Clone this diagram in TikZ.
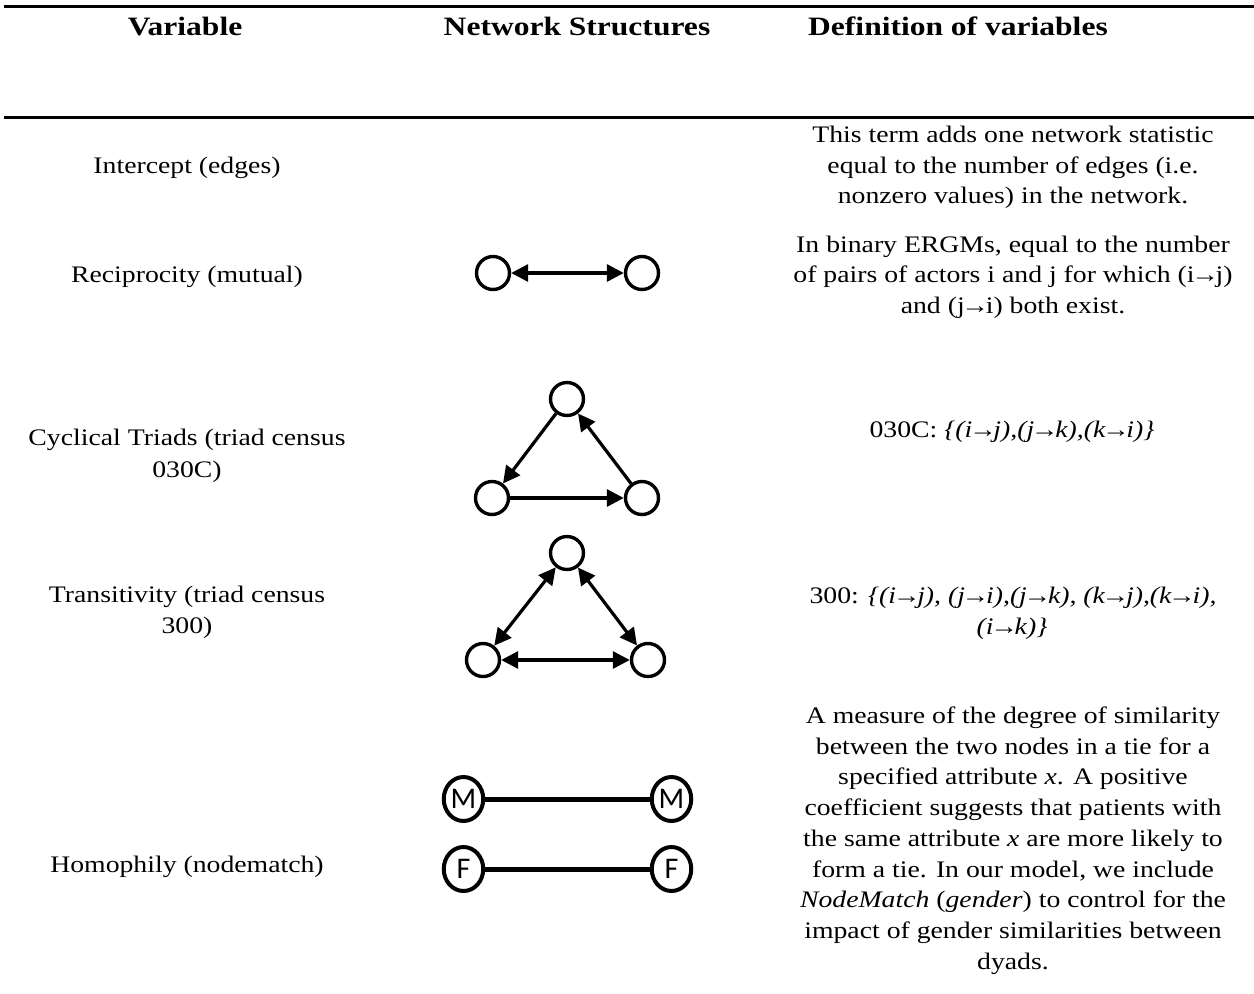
\documentclass[tikz,border=0pt]{standalone}
\usepackage{fontspec}
\setmainfont{Liberation Serif}[FakeStretch=1.17]
\newfontfamily\headfont{Liberation Serif}[FakeStretch=1.19]
\newfontfamily\letterfont{Carlito}
\usetikzlibrary{arrows.meta,shapes.geometric}

% a tightly spaced arrow for the tie notation
\newcommand\arw{\kern-.14em→\kern-.14em}

\tikzset{
  txt/.style={font=\fontsize{23.7}{30.7}\selectfont, anchor=base, inner sep=0pt},
  head/.style={font=\headfont\bfseries\fontsize{26.5}{30}\selectfont, anchor=base, inner sep=0pt},
  rule/.style={line width=3pt},
  actor/.style={circle, draw, line width=3.4pt, minimum size=33pt, inner sep=0pt},
  gendernode/.style={ellipse, draw, line width=4pt, minimum width=39.5pt, minimum height=44pt,
    inner sep=0pt, font=\letterfont\fontsize{30}{30}\selectfont},
  tie/.style={line width=3.2pt},
  tip/.tip={Triangle[length=17pt,width=17pt]},
  dirtie/.style={tie, -tip},
  bitie/.style={tie, tip-tip},
  homtie/.style={line width=5pt},
}

\begin{document}
\begin{tikzpicture}[x=1pt, y=-1pt]
\useasboundingbox (0,0) rectangle (1254,994);

% table rules
\draw[rule] (4,6.5) -- (1254,6.5);
\draw[rule] (4,117) -- (1254,117);

% column headings
\node[head] (h1) at (185,35) {Variable};
\node[head] (h2) at (577,35) {Network Structures};
\node[head] (h3) at (958,35) {Definition of variables};

% variable names
\node[txt] (v1) at (187,173) {Intercept (edges)};
\node[txt] (v2) at (187,282.5) {Reciprocity (mutual)};
\node[txt] (v3a) at (187,445) {Cyclical Triads (triad census};
\node[txt] (v3b) at (187,477) {030C)};
\node[txt] (v4a) at (187,602) {Transitivity (triad census};
\node[txt] (v4b) at (187,633) {300)};
\node[txt] (v5) at (187,872) {Homophily (nodematch)};

% definitions
\node[txt] (d1a) at (1013,142.5) {This term adds one network statistic};
\node[txt] (d1b) at (1013,173) {equal to the number of edges (i.e.};
\node[txt] (d1c) at (1013,203.5) {nonzero values) in the network.};

\node[txt] (d2a) at (1013,252) {In binary ERGMs, equal to the number};
\node[txt] (d2b) at (1013,282.5) {of pairs of actors i and j for which (i\arw j)};
\node[txt] (d2c) at (1013,313) {and (j\arw i) both exist.};

\node[txt] (d3) at (1012,437) {030C: \textit{\{(i\arw j),(j\arw k),(k\arw i)\}}};

\node[txt] (d4a) at (1013,603) {300: \textit{\{(i\arw j), (j\arw i),(j\arw k), (k\arw j),(k\arw i),}};
\node[txt] (d4b) at (1012,634) {\textit{(i\arw k)\}}};

\node[txt] (d5a) at (1013,723.5) {A measure of the degree of similarity};
\node[txt] (d5b) at (1013,754.2) {between the two nodes in a tie for a};
\node[txt] (d5c) at (1013,784.9) {specified attribute \textit{x}. A positive};
\node[txt] (d5d) at (1013,815.6) {coefficient suggests that patients with};
\node[txt] (d5e) at (1013,846.3) {the same attribute \textit{x} are more likely to};
\node[txt] (d5f) at (1013,877) {form a tie. In our model, we include};
\node[txt] (d5g) at (1013,907.7) {\textit{NodeMatch} (\textit{gender}) to control for the};
\node[txt] (d5h) at (1013,938.4) {impact of gender similarities between};
\node[txt] (d5i) at (1013,969.1) {dyads.};

% mutual dyad
\node[actor] (ra) at (493,273) {};
\node[actor] (rb) at (642,273) {};
\draw[bitie] (ra) -- (rb);

% cyclic triad
\node[actor] (ct) at (567,399) {};
\node[actor] (cl) at (492,498) {};
\node[actor] (cr) at (642,498) {};
\draw[dirtie] (ct) -- (cl);
\draw[dirtie] (cl) -- (cr);
\draw[dirtie] (cr) -- (ct);

% complete mutual triad
\node[actor] (tt) at (567,553) {};
\node[actor] (tl) at (483,660) {};
\node[actor] (tr) at (648,660) {};
\draw[bitie] (tt) -- (tl);
\draw[bitie] (tt) -- (tr);
\draw[bitie] (tl) -- (tr);

% same-gender ties
\node[gendernode] (m1) at (463.5,799) {M};
\node[gendernode] (m2) at (671.5,799) {M};
\node[gendernode] (f1) at (463.5,869) {F};
\node[gendernode] (f2) at (671.5,869) {F};
\draw[homtie] (m1) -- (m2);
\draw[homtie] (f1) -- (f2);
\end{tikzpicture}
\end{document}
